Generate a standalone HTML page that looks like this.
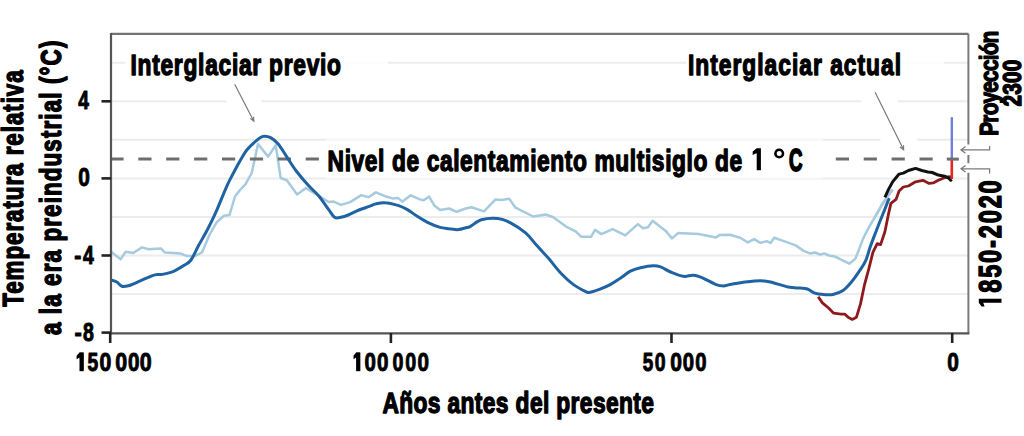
<!DOCTYPE html>
<html><head><meta charset="utf-8"><style>
html,body{margin:0;padding:0;background:#fff;width:1024px;height:436px;overflow:hidden}
svg{display:block}
</style></head><body>
<svg width="1024" height="436" viewBox="0 0 1024 436">
<rect width="1024" height="436" fill="#fff"/>
<line x1="112" x2="968" y1="62.7" y2="62.7" stroke="#ececec" stroke-width="2"/>
<line x1="112" x2="968" y1="101.3" y2="101.3" stroke="#ececec" stroke-width="2"/>
<line x1="112" x2="968" y1="139.8" y2="139.8" stroke="#ececec" stroke-width="2"/>
<line x1="112" x2="968" y1="178.4" y2="178.4" stroke="#ececec" stroke-width="2"/>
<line x1="112" x2="968" y1="217.0" y2="217.0" stroke="#ececec" stroke-width="2"/>
<line x1="112" x2="968" y1="255.5" y2="255.5" stroke="#ececec" stroke-width="2"/>
<line x1="112" x2="968" y1="294.1" y2="294.1" stroke="#ececec" stroke-width="2"/>
<rect x="125" y="40" width="263" height="45" fill="#fff" fill-opacity="0.85"/>
<rect x="686" y="40" width="258" height="45" fill="#fff" fill-opacity="0.85"/>
<rect x="326" y="139" width="497" height="40" fill="#fff" fill-opacity="0.6"/>
<line x1="234.7" y1="84.3" x2="254.5" y2="121.4" stroke="#fff" stroke-width="31"/>
<line x1="875.1" y1="92.3" x2="904" y2="150.1" stroke="#fff" stroke-width="33"/>
<path d="M111.0 251.7 L120.6 259.3 L125.7 251.7 L133.2 253.0 L142.0 247.4 L148.4 249.2 L161.0 248.4 L164.8 252.5 L173.6 253.0 L180.0 253.4 L187.3 256.1 L194.7 256.1 L202.0 252.5 L209.4 235.0 L216.7 222.2 L224.0 215.8 L229.5 214.9 L235.0 196.5 L240.0 190.0 L245.4 184.3 L251.7 173.0 L258.0 144.0 L268.1 156.6 L275.7 145.2 L280.7 178.0 L287.0 180.5 L297.1 194.4 L306.0 188.1 L318.6 195.7 L328.7 202.0 L333.7 201.6 L341.0 204.9 L350.2 202.1 L361.2 195.1 L368.5 197.2 L375.9 192.4 L385.0 196.2 L392.4 198.4 L397.9 197.9 L402.5 201.6 L410.7 195.3 L419.9 199.4 L423.6 200.3 L429.1 196.6 L434.6 205.8 L440.1 210.0 L449.3 208.5 L456.6 211.8 L465.8 208.5 L471.4 207.2 L484.0 211.4 L495.3 199.6 L501.6 200.1 L509.2 198.8 L515.5 207.7 L533.2 216.5 L545.8 214.5 L553.3 217.2 L566.0 226.6 L576.0 231.6 L581.1 236.7 L591.2 236.7 L595.0 229.9 L601.4 234.1 L612.7 229.1 L625.3 235.4 L637.9 224.1 L643.0 228.3 L648.0 227.3 L652.6 220.8 L665.7 230.9 L672.0 238.4 L678.3 232.9 L698.5 234.1 L716.1 237.4 L719.9 234.9 L730.1 234.8 L740.2 237.8 L747.8 242.4 L754.1 239.1 L760.4 242.9 L766.7 241.1 L770.5 242.9 L774.2 237.8 L783.1 240.9 L795.7 245.4 L803.7 250.9 L810.0 253.4 L815.0 252.5 L820.0 254.5 L824.4 253.4 L829.0 255.5 L834.7 256.5 L839.0 258.5 L843.0 260.6 L846.0 262.0 L849.2 263.7 L852.0 261.5 L855.4 258.6 L859.5 248.2 L862.6 240.0 L865.2 234.3 L870.3 224.8 L875.5 216.2 L882.3 204.2 L887.5 196.5 L892.6 189.6" fill="none" stroke="#a6cade" stroke-width="2.5" stroke-linejoin="round"/>
<line x1="110.4" x2="940" y1="159.1" y2="159.1" stroke="#6e6e6e" stroke-width="3" stroke-dasharray="13.2 14.7"/>
<rect x="322" y="142" width="503" height="34" fill="#fff"/>
<path d="M111.0 280.0 C112.0 280.3 115.0 280.9 116.8 282.0 C118.6 283.1 120.0 285.7 121.9 286.3 C123.8 286.9 125.0 286.7 128.2 285.8 C131.3 284.9 136.4 282.5 140.8 280.7 C145.2 278.9 151.1 275.9 154.7 274.9 C158.3 273.8 159.0 275.0 162.2 274.4 C165.3 273.8 170.0 272.9 173.6 271.4 C177.2 269.9 180.8 267.5 183.7 265.6 C186.6 263.7 188.6 263.3 191.0 260.0 C193.4 256.7 195.6 251.1 198.3 246.0 C201.1 240.9 204.4 235.4 207.5 229.5 C210.6 223.6 213.6 217.3 216.7 210.3 C219.8 203.3 223.8 192.9 226.3 187.3 C228.8 181.7 229.2 181.0 231.6 176.5 C234.0 172.0 238.0 164.5 240.5 160.1 C243.0 155.7 244.3 153.1 246.8 150.0 C249.3 146.9 252.8 143.7 255.5 141.4 C258.2 139.1 260.6 137.0 263.1 136.4 C265.6 135.8 268.1 136.4 270.6 137.7 C273.1 139.0 275.7 141.1 278.2 144.0 C280.7 146.9 282.9 150.9 285.8 155.3 C288.8 159.7 292.1 165.4 295.9 170.5 C299.7 175.6 304.7 181.4 308.5 185.6 C312.3 189.8 315.2 191.7 318.6 195.7 C322.0 199.7 326.0 206.0 328.7 209.6 C331.4 213.2 332.6 216.0 334.6 217.3 C336.7 218.6 338.7 217.7 341.0 217.3 C343.3 216.9 345.6 216.1 348.3 215.0 C351.1 213.9 354.1 212.1 357.5 210.7 C360.9 209.3 365.4 207.8 368.5 206.7 C371.6 205.6 373.1 204.6 375.9 203.9 C378.6 203.2 381.3 202.4 385.0 202.7 C388.7 202.9 394.2 204.3 397.9 205.4 C401.6 206.5 403.6 207.5 407.0 209.4 C410.4 211.3 414.3 214.5 418.0 216.8 C421.7 219.1 425.4 221.4 429.1 223.2 C432.8 225.0 436.7 226.5 440.1 227.4 C443.5 228.3 446.2 228.3 449.3 228.7 C452.4 229.1 455.6 229.8 458.4 229.6 C461.1 229.4 463.9 228.3 465.8 227.8 C467.8 227.3 467.5 227.9 470.1 226.6 C472.7 225.3 476.8 221.2 481.4 219.8 C486.0 218.5 492.9 218.0 497.8 218.5 C502.7 219.0 505.9 220.4 510.5 222.8 C515.1 225.2 521.4 229.3 525.6 232.9 C529.8 236.5 531.9 240.0 535.7 244.2 C539.5 248.4 544.1 253.3 548.3 258.1 C552.5 262.9 556.7 268.8 560.9 273.2 C565.1 277.6 569.3 281.5 573.5 284.6 C577.7 287.7 583.4 290.4 586.1 291.7 C588.9 293.0 587.7 292.6 590.0 292.2 C592.3 291.8 596.7 290.4 600.1 289.1 C603.5 287.8 606.8 286.4 610.2 284.6 C613.6 282.8 616.9 280.5 620.3 278.3 C623.7 276.1 627.0 273.0 630.4 271.2 C633.8 269.4 636.7 268.6 640.5 267.7 C644.3 266.8 649.8 265.8 653.1 265.7 C656.5 265.6 657.7 265.8 660.6 266.9 C663.5 267.9 666.9 270.4 670.7 272.0 C674.5 273.6 679.5 275.8 683.3 276.3 C687.1 276.9 690.0 275.0 693.4 275.3 C696.8 275.6 699.7 276.8 703.5 278.3 C707.3 279.9 712.7 283.3 716.1 284.6 C719.5 285.9 721.4 285.9 723.7 285.9 C726.0 285.9 726.5 285.1 730.1 284.5 C733.7 283.9 740.2 282.6 745.2 282.0 C750.2 281.4 756.2 280.7 760.4 280.7 C764.6 280.7 765.9 280.9 770.5 282.0 C775.1 283.1 783.2 286.0 788.1 287.0 C793.0 288.0 796.8 287.8 800.0 288.1 C803.2 288.4 804.8 288.2 807.3 289.0 C809.8 289.8 812.0 292.2 814.7 293.1 C817.5 294.0 820.8 294.3 823.8 294.5 C826.8 294.7 829.8 295.2 833.0 294.5 C836.2 293.8 840.0 292.5 843.0 290.5 C846.0 288.5 848.5 285.6 851.2 282.3 C854.0 279.0 857.1 274.5 859.5 270.9 C861.9 267.3 864.0 264.5 865.7 260.6 C867.5 256.7 868.5 251.8 870.0 247.5 C871.5 243.2 872.8 239.7 874.6 235.1 C876.4 230.5 878.7 224.4 880.6 219.7 C882.5 215.0 884.4 210.4 885.8 206.8 C887.2 203.2 888.6 199.6 889.2 198.2" fill="none" stroke="#1f63a3" stroke-width="3.0" stroke-linejoin="round"/>
<path d="M875.5 216.2 L882.3 204.2 L887.5 196.5 L892.6 189.6" fill="none" stroke="#a6cade" stroke-width="2.5" stroke-linejoin="round"/>
<path d="M818.2 296.7 L822.4 302.9 L828.6 308.0 L833.7 313.2 L841.0 314.2 L845.0 314.2 L848.1 317.3 L852.3 319.4 L856.4 317.3 L860.5 303.9 L864.6 284.3 L868.8 268.9 L872.9 252.4 L877.2 243.7 L880.6 244.6 L884.9 231.7 L888.4 214.5 L890.9 203.4 L896.0 199.4 L899.1 191.1 L903.3 187.0 L908.4 186.0 L915.6 181.8 L922.9 180.3 L929.1 183.4 L933.2 182.9 L938.3 180.3 L944.5 177.7 L949.7 176.7 L951.8 177.7" fill="none" stroke="#8e1a1d" stroke-width="2.8" stroke-linejoin="round"/>
<path d="M884.9 197.3 L888.4 189.6 L892.6 181.9 L897.0 176.5 L899.1 174.1 L903.3 173.1 L908.4 170.5 L915.6 168.4 L921.8 170.5 L928.0 172.0 L932.2 172.5 L938.3 175.1 L944.5 176.2 L948.7 178.2 L950.7 180.3 L951.8 179.5" fill="none" stroke="#111" stroke-width="3" stroke-linejoin="round"/>
<line x1="951.8" x2="951.8" y1="179" y2="158" stroke="#e52520" stroke-width="2.6"/>
<line x1="951.8" x2="951.8" y1="158.5" y2="117.2" stroke="#6f7fd6" stroke-width="2.4"/>
<line x1="946.8" x2="958.8" y1="159.1" y2="159.1" stroke="#6e6e6e" stroke-width="3"/>
<path d="M968.4 33.8 L968.4 333.3" stroke="#7a7a7a" stroke-width="2" fill="none"/>
<path d="M111 33.8 L968.4 33.8" stroke="#747474" stroke-width="2.2" fill="none"/>
<path d="M111 33 L111 334.3" stroke="#555" stroke-width="2.2" fill="none"/>
<path d="M110 333.3 L969.4 333.3" stroke="#555" stroke-width="2.2" fill="none"/>
<rect x="964" y="144.5" width="9" height="10.5" fill="#fff"/>
<rect x="964" y="163.2" width="9" height="9.6" fill="#fff"/>
<line x1="101.5" x2="111" y1="101.3" y2="101.3" stroke="#222" stroke-width="2.6"/>
<line x1="101.5" x2="111" y1="178.4" y2="178.4" stroke="#222" stroke-width="2.6"/>
<line x1="101.5" x2="111" y1="255.5" y2="255.5" stroke="#222" stroke-width="2.6"/>
<line x1="101.5" x2="111" y1="332.6" y2="332.6" stroke="#222" stroke-width="2.6"/>
<line x1="110.2" x2="110.2" y1="333" y2="343" stroke="#222" stroke-width="2.6"/>
<line x1="390.9" x2="390.9" y1="333" y2="343" stroke="#222" stroke-width="2.6"/>
<line x1="671.5" x2="671.5" y1="333" y2="343" stroke="#222" stroke-width="2.6"/>
<line x1="952.2" x2="952.2" y1="333" y2="343" stroke="#222" stroke-width="2.6"/>
<g stroke="#7a7a7a" stroke-width="1.2" fill="none"><path d="M234.7 84.3 L253.8 121.2 M250.3 118.4 L253.8 121.2 L253.6 116.8"/><path d="M875.1 92.3 L903.6 149.8 M900.0 147.1 L903.6 149.8 L903.5 145.3"/><path d="M989.6 145.9 L989.6 149.9 L961 149.9 M965.5 146.6 L961 149.9 L965.5 153.2"/><path d="M989.6 173.4 L989.6 168.8 L961 168.8 M965.5 165.5 L961 168.8 L965.5 172.1"/></g>
<g font-family='"Liberation Sans", sans-serif' font-weight="bold" fill="#000" stroke="#000" stroke-width="0.9" stroke-linejoin="round">
<text transform="translate(130.50 75.30) scale(0.760 1)" font-size="30.0" stroke-width="1.40" textLength="276.97" lengthAdjust="spacing">Interglaciar previo</text>
<text transform="translate(688.00 75.30) scale(0.760 1)" font-size="30.0" stroke-width="1.40" textLength="280.26" lengthAdjust="spacing">Interglaciar actual</text>
<text transform="translate(327.60 170.50) scale(0.760 1)" font-size="30.0" stroke-width="1.40" textLength="545.39" lengthAdjust="spacing">Nivel de calentamiento multisiglo de</text>
<text x="788.9" y="170.6" font-size="31.0" textLength="13.5" lengthAdjust="spacingAndGlyphs" stroke-width="1.9">C</text>
<text transform="translate(382.40 413.40) scale(0.760 1)" font-size="30.0" stroke-width="1.40" textLength="357.24" lengthAdjust="spacing">Años antes del presente</text>
<text transform="translate(23.10 306.80) rotate(-90) scale(0.760 1)" font-size="29.5" stroke-width="1.40" textLength="311.18" lengthAdjust="spacing">Temperatura relativa</text>
<text transform="translate(61.10 335.10) rotate(-90) scale(0.760 1)" font-size="29.5" stroke-width="1.40" textLength="387.50" lengthAdjust="spacing">a la era preindustrial (°C)</text>
<text transform="translate(1001.20 292.80) rotate(-90) scale(0.760 1)" font-size="31.0" stroke-width="1.40" textLength="148.03" lengthAdjust="spacing">850-2020</text>
<path d="M978.8 298.7 L1001.5 298.7 L1001.5 302.8 L978.8 302.8 Z M978.8 302.8 L981.6 306.5 L984.6 306.5 L983.2 302.8 Z" stroke="none"/>
<path d="M756.7 148.3 L760.9 148.3 L760.9 170.3 L756.7 170.3 Z M756.7 148.3 L752.7 151.6 L752.7 155.0 L756.7 153.0 Z" stroke="none"/>
<text transform="translate(997.50 135.70) rotate(-90) scale(0.820 1)" font-size="25.5" stroke-width="1.30" textLength="128.05" lengthAdjust="spacing">Proyección</text>
<text transform="translate(1020.80 106.60) rotate(-90) scale(0.800 1)" font-size="26.0" stroke-width="1.40" textLength="58.75" lengthAdjust="spacing">2300</text>
<text transform="translate(78.37 108.60) scale(0.729 1)" font-size="26.3" stroke-width="1.00">4</text>
<text transform="translate(78.27 186.40) scale(0.792 1)" font-size="26.3" stroke-width="1.00">0</text>
<text transform="translate(74.37 264.20) scale(0.808 1)" font-size="26.3" stroke-width="1.00">-</text>
<text transform="translate(83.07 264.20) scale(0.736 1)" font-size="26.3" stroke-width="1.00">4</text>
<text transform="translate(74.46 340.80) scale(0.834 1)" font-size="26.3" stroke-width="1.00">-</text>
<text transform="translate(83.05 340.80) scale(0.744 1)" font-size="26.3" stroke-width="1.00">8</text>
<path d="M83.60 371.20 L83.60 352.60 L79.50 352.60 L76.60 355.80 L76.60 359.20 L79.50 357.60 Z" stroke="none"/><rect x="79.50" y="352.60" width="4.10" height="18.60" stroke="none"/>
<text transform="translate(87.57 371.20) scale(0.731 1)" font-size="26.3" stroke-width="1.00">5</text>
<text transform="translate(99.56 371.20) scale(0.807 1)" font-size="26.3" stroke-width="1.00">0</text>
<text transform="translate(115.26 371.20) scale(0.814 1)" font-size="26.3" stroke-width="1.00">0</text>
<text transform="translate(127.98 371.20) scale(0.785 1)" font-size="26.3" stroke-width="1.00">0</text>
<text transform="translate(139.86 371.20) scale(0.814 1)" font-size="26.3" stroke-width="1.00">0</text>
<path d="M360.20 371.20 L360.20 352.60 L356.10 352.60 L353.50 355.80 L353.50 359.20 L356.10 357.60 Z" stroke="none"/><rect x="356.10" y="352.60" width="4.10" height="18.60" stroke="none"/>
<text transform="translate(364.38 371.20) scale(0.777 1)" font-size="26.3" stroke-width="1.00">0</text>
<text transform="translate(377.08 371.20) scale(0.785 1)" font-size="26.3" stroke-width="1.00">0</text>
<text transform="translate(392.50 371.20) scale(0.748 1)" font-size="26.3" stroke-width="1.00">0</text>
<text transform="translate(405.20 371.20) scale(0.748 1)" font-size="26.3" stroke-width="1.00">0</text>
<text transform="translate(417.48 371.20) scale(0.785 1)" font-size="26.3" stroke-width="1.00">0</text>
<text transform="translate(642.78 371.20) scale(0.717 1)" font-size="26.3" stroke-width="1.00">5</text>
<text transform="translate(654.70 371.20) scale(0.740 1)" font-size="26.3" stroke-width="1.00">0</text>
<text transform="translate(670.27 371.20) scale(0.800 1)" font-size="26.3" stroke-width="1.00">0</text>
<text transform="translate(682.78 371.20) scale(0.770 1)" font-size="26.3" stroke-width="1.00">0</text>
<text transform="translate(695.18 371.20) scale(0.770 1)" font-size="26.3" stroke-width="1.00">0</text>
<text transform="translate(947.27 371.20) scale(0.792 1)" font-size="26.3" stroke-width="1.00">0</text>
</g>
<circle cx="779.2" cy="153.5" r="3.8" fill="none" stroke="#000" stroke-width="2.6"/>
</svg>
</body></html>
